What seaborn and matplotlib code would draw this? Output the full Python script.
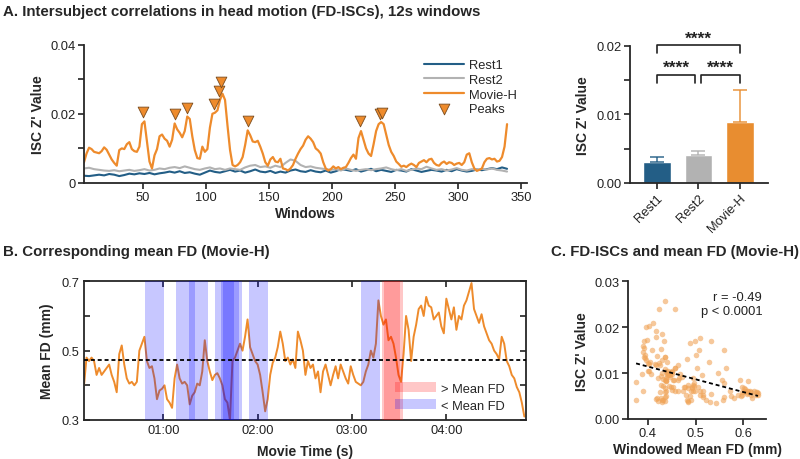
import numpy as np
import pandas as pd
import matplotlib
matplotlib.use("Agg")
import matplotlib.pyplot as plt
import seaborn as sns
from matplotlib.patches import Patch
from matplotlib.ticker import FuncFormatter

# ---------------- data ----------------
# FD-ISC per sliding window (Movie-H read every 2nd window, rest runs every 4th)
movie_first, movie_step = 3, 2
movie_isc = [
    0.0060, 0.0085, 0.0102, 0.0098, 0.0090, 0.0088, 0.0086, 0.0092, 0.0103, 0.0096,
    0.0082, 0.0068, 0.0058, 0.0050, 0.0095, 0.0100, 0.0098, 0.0112, 0.0118, 0.0098,
    0.0092, 0.0090, 0.0105, 0.0170, 0.0178, 0.0120, 0.0062, 0.0042, 0.0080, 0.0098,
    0.0135, 0.0140, 0.0128, 0.0122, 0.0105, 0.0125, 0.0172, 0.0155, 0.0145, 0.0132,
    0.0150, 0.0192, 0.0185, 0.0135, 0.0095, 0.0072, 0.0070, 0.0105, 0.0090, 0.0098,
    0.0160, 0.0200, 0.0203, 0.0210, 0.0240, 0.0258, 0.0240, 0.0165, 0.0095, 0.0052,
    0.0048, 0.0052, 0.0060, 0.0075, 0.0110, 0.0152, 0.0138, 0.0120, 0.0118, 0.0122,
    0.0105, 0.0085, 0.0060, 0.0050, 0.0068, 0.0075, 0.0062, 0.0060, 0.0070, 0.0042,
    0.0040, 0.0036, 0.0042, 0.0052, 0.0070, 0.0085, 0.0098, 0.0108, 0.0125, 0.0135,
    0.0128, 0.0118, 0.0100, 0.0094, 0.0085, 0.0060, 0.0042, 0.0036, 0.0040, 0.0048,
    0.0042, 0.0046, 0.0040, 0.0044, 0.0046, 0.0058, 0.0072, 0.0082, 0.0070, 0.0130,
    0.0150, 0.0125, 0.0100, 0.0085, 0.0078, 0.0112, 0.0150, 0.0170, 0.0176, 0.0170,
    0.0140, 0.0110, 0.0090, 0.0078, 0.0062, 0.0055, 0.0047, 0.0050, 0.0046, 0.0052,
    0.0056, 0.0052, 0.0046, 0.0058, 0.0062, 0.0066, 0.0060, 0.0068, 0.0070, 0.0058,
    0.0052, 0.0050, 0.0058, 0.0062, 0.0055, 0.0060, 0.0058, 0.0052, 0.0056, 0.0058,
    0.0052, 0.0060, 0.0082, 0.0086, 0.0060, 0.0042, 0.0035, 0.0038, 0.0042, 0.0060,
    0.0070, 0.0072, 0.0068, 0.0070, 0.0062, 0.0064, 0.0075, 0.0105, 0.0170,
]
rest_first, rest_step = 3, 4
rest1_isc = [
    0.0021, 0.0020, 0.0022, 0.0024, 0.0022, 0.0026, 0.0024, 0.0020, 0.0023, 0.0027,
    0.0025, 0.0028, 0.0026, 0.0029, 0.0025, 0.0028, 0.0030, 0.0033, 0.0030, 0.0034,
    0.0029, 0.0031, 0.0027, 0.0024, 0.0030, 0.0036, 0.0032, 0.0030, 0.0034, 0.0038,
    0.0033, 0.0036, 0.0030, 0.0034, 0.0039, 0.0033, 0.0031, 0.0035, 0.0029, 0.0033,
    0.0030, 0.0036, 0.0039, 0.0034, 0.0032, 0.0037, 0.0033, 0.0031, 0.0036, 0.0030,
    0.0034, 0.0040, 0.0038, 0.0035, 0.0040, 0.0033, 0.0037, 0.0041, 0.0034, 0.0038,
    0.0035, 0.0032, 0.0038, 0.0036, 0.0033, 0.0040, 0.0036, 0.0032, 0.0035, 0.0038,
    0.0036, 0.0033, 0.0038, 0.0034, 0.0040, 0.0036, 0.0033, 0.0035, 0.0039, 0.0037,
    0.0040, 0.0043, 0.0040, 0.0045, 0.0041,
]
rest2_isc = [
    0.0042, 0.0044, 0.0040, 0.0038, 0.0036, 0.0035, 0.0037, 0.0034, 0.0036, 0.0038,
    0.0035, 0.0037, 0.0040, 0.0036, 0.0038, 0.0042, 0.0040, 0.0044, 0.0046, 0.0043,
    0.0048, 0.0044, 0.0040, 0.0038, 0.0042, 0.0045, 0.0040, 0.0042, 0.0038, 0.0042,
    0.0040, 0.0038, 0.0045, 0.0050, 0.0052, 0.0046, 0.0048, 0.0044, 0.0050, 0.0046,
    0.0058, 0.0068, 0.0064, 0.0052, 0.0046, 0.0048, 0.0044, 0.0042, 0.0040, 0.0038,
    0.0040, 0.0036, 0.0042, 0.0038, 0.0035, 0.0038, 0.0040, 0.0037, 0.0040, 0.0042,
    0.0045, 0.0040, 0.0037, 0.0040, 0.0035, 0.0038, 0.0042, 0.0040, 0.0047, 0.0042,
    0.0038, 0.0040, 0.0036, 0.0039, 0.0043, 0.0038, 0.0036, 0.0040, 0.0038, 0.0041,
    0.0039, 0.0042, 0.0038, 0.0036, 0.0033,
]

# peaks of the Movie-H FD-ISC
peak_windows = [50, 75, 85, 106, 110, 112, 133, 222, 238, 240]
peak_isc = [0.0180, 0.0173, 0.0192, 0.0203, 0.0242, 0.0266, 0.0153, 0.0155, 0.0174, 0.0176]
peak_side = ["<", "<", "<", "<", "<", "<", "<", "<", ">", ">"]

# group mean FD during Movie-H (one value every 1.6 s, from 9.6 s)
fd_t0, fd_dt = 9.6, 1.6
mean_fd = [
    0.40, 0.48, 0.47, 0.48, 0.47, 0.43, 0.45, 0.43, 0.44, 0.45,
    0.46, 0.43, 0.41, 0.38, 0.49, 0.515, 0.46, 0.42, 0.405, 0.41,
    0.40, 0.41, 0.50, 0.52, 0.54, 0.47, 0.45, 0.455, 0.42, 0.36,
    0.385, 0.39, 0.40, 0.36, 0.35, 0.335, 0.42, 0.46, 0.42, 0.405,
    0.41, 0.40, 0.345, 0.37, 0.38, 0.405, 0.40, 0.44, 0.53, 0.47,
    0.44, 0.415, 0.43, 0.435, 0.42, 0.40, 0.36, 0.35, 0.30, 0.47,
    0.48, 0.50, 0.52, 0.50, 0.54, 0.59, 0.51, 0.49, 0.47, 0.46,
    0.43, 0.38, 0.325, 0.36, 0.43, 0.465, 0.48, 0.51, 0.555, 0.52,
    0.47, 0.48, 0.46, 0.475, 0.45, 0.555, 0.53, 0.50, 0.43, 0.47,
    0.45, 0.46, 0.42, 0.44, 0.38, 0.44, 0.46, 0.43, 0.40, 0.43,
    0.455, 0.42, 0.46, 0.44, 0.42, 0.405, 0.455, 0.43, 0.41, 0.405,
    0.40, 0.41, 0.44, 0.46, 0.50, 0.48, 0.52, 0.645, 0.60, 0.575,
    0.59, 0.53, 0.54, 0.52, 0.48, 0.43, 0.41, 0.49, 0.60, 0.56,
    0.47, 0.54, 0.575, 0.62, 0.63, 0.60, 0.655, 0.63, 0.625, 0.59,
    0.60, 0.61, 0.57, 0.55, 0.65, 0.62, 0.59, 0.625, 0.56, 0.60,
    0.59, 0.63, 0.645, 0.67, 0.695, 0.62, 0.60, 0.58, 0.605, 0.57,
    0.55, 0.53, 0.52, 0.50, 0.49, 0.475, 0.54, 0.52, 0.47, 0.455,
    0.43, 0.42, 0.395, 0.38, 0.35, 0.31,
]
overall_mean_fd = 0.473

# window timing (TR = 0.8 s, 12 s windows)
tr, win_len, win_offset = 0.8, 12, 8.4

conditions = ["Rest1", "Rest2", "Movie-H"]
cond_mean = [0.0031, 0.0041, 0.0089]
cond_sd = [0.0007, 0.0006, 0.0046]

# ---------------- style ----------------
c_rest1 = "#235E86"
c_rest2 = "#B2B2B2"
c_movie = "#EE8B2C"
c_bar_movie = "#E88D30"
c_scatter = "#F0A458"

sns.set_theme(style="ticks")
plt.rcParams["font.family"] = ["Liberation Sans", "DejaVu Sans"]
plt.rcParams["axes.linewidth"] = 1.3
plt.rcParams["xtick.major.width"] = 1.2
plt.rcParams["ytick.major.width"] = 1.2
plt.rcParams["ytick.minor.width"] = 1.2
plt.rcParams["xtick.color"] = "#222222"
plt.rcParams["ytick.color"] = "#222222"
tick_fs = 9.3
lab_fs = 10
title_fs = 10.8

fig = plt.figure(figsize=(8, 4.6), dpi=100)
axA = fig.add_axes([0.105, 0.600, 0.554, 0.301])
axBar = fig.add_axes([0.787, 0.600, 0.1725, 0.2985])
axB = fig.add_axes([0.105, 0.0848, 0.552, 0.3015])
axC = fig.add_axes([0.785, 0.087, 0.173, 0.2993])

# ---------------- A: FD-ISC time courses ----------------
movie_w = movie_first + movie_step * np.arange(len(movie_isc))
rest_w = rest_first + rest_step * np.arange(len(rest1_isc))

sns.lineplot(x=rest_w, y=rest1_isc, color=c_rest1, lw=1.5, ax=axA, label="Rest1")
sns.lineplot(x=rest_w, y=rest2_isc, color=c_rest2, lw=1.5, ax=axA, label="Rest2")
sns.lineplot(x=movie_w, y=movie_isc, color=c_movie, lw=1.6, ax=axA, label="Movie-H")
sns.scatterplot(x=peak_windows, y=np.array(peak_isc) + 0.0025, marker="v", s=60,
                color=c_movie, edgecolor="#7A4C1E", linewidth=0.6, ax=axA,
                label="Peaks", zorder=5)

axA.set_xlim(3, 355)
axA.set_ylim(0, 0.04)
axA.set_xticks(range(50, 351, 50))
axA.set_yticks([0, 0.02, 0.04])
axA.set_yticklabels(["0", "0.02", "0.04"])
axA.set_yticks([0.01, 0.03], minor=True)
axA.tick_params(which="both", direction="out", length=4, labelsize=tick_fs, pad=2)
sns.despine(ax=axA)
axA.set_xlabel("Windows", fontsize=lab_fs, fontweight="bold", labelpad=2)
axA.set_ylabel("ISC Z' Value", fontsize=lab_fs, fontweight="bold", labelpad=4)
axA.legend(loc="upper right", bbox_to_anchor=(0.995, 0.95), frameon=False,
           fontsize=tick_fs, handlelength=3.1, labelspacing=0.2, handletextpad=0.4,
           borderpad=0.1)

# ---------------- A right: mean FD-ISC per condition ----------------
bar_colors = [c_rest1, c_rest2, c_bar_movie]
sns.barplot(x=conditions, y=cond_mean, hue=conditions, palette=bar_colors,
            legend=False, width=0.66, saturation=1, ax=axBar)
for i, (m, sd, c) in enumerate(zip(cond_mean, cond_sd, bar_colors)):
    axBar.errorbar(i, m, yerr=[[0], [sd]], fmt="none", ecolor=c, elinewidth=1.2,
                   capsize=5, capthick=1.2, alpha=0.85)

axBar.set_xlim(-0.66, 2.67)
axBar.set_ylim(0, 0.02)
axBar.set_yticks([0, 0.01, 0.02])
axBar.set_yticklabels(["0.00", "0.01", "0.02"])
axBar.set_yticks([0.005, 0.015], minor=True)
axBar.tick_params(which="both", direction="out", length=4, labelsize=tick_fs, pad=2)
axBar.set_xticks(range(3))
axBar.set_xticklabels(conditions, rotation=45, ha="right", rotation_mode="anchor")
sns.despine(ax=axBar)
axBar.set_xlabel("")
axBar.set_ylabel("ISC Z' Value", fontsize=lab_fs, fontweight="bold", labelpad=4)

# significance brackets
def bracket(ax, x1, x2, y, h, text):
    ax.plot([x1, x1, x2, x2], [y - h, y, y, y - h], color="#222222", lw=1.2, clip_on=False)
    ax.text((x1 + x2) / 2, y - 0.0001, text, ha="center", va="bottom",
            fontsize=12.5, fontweight="bold", color="#222222", clip_on=False)

bracket(axBar, 0, 0.93, 0.0158, 0.0012, "****")
bracket(axBar, 1.07, 2, 0.0158, 0.0012, "****")
bracket(axBar, 0, 2, 0.0201, 0.0012, "****")

# ---------------- B: mean FD during Movie-H ----------------
fd_time = fd_t0 + fd_dt * np.arange(len(mean_fd))
sns.lineplot(x=fd_time, y=mean_fd, color=c_movie, lw=1.4, ax=axB, zorder=2)
axB.axhline(overall_mean_fd, color="black", ls=(0, (2.2, 1.6)), lw=1.3, zorder=4)

for w, side in zip(peak_windows, peak_side):
    onset = win_offset + tr * w
    axB.axvspan(onset, onset + win_len, color="red" if side == ">" else "blue",
                alpha=0.22, lw=0, zorder=3)

axB.set_xlim(fd_time[0], fd_time[-1] + 0.8)
axB.set_ylim(0.3, 0.7)
axB.set_xticks([60, 120, 180, 240])
axB.xaxis.set_major_formatter(FuncFormatter(lambda t, _: f"{int(t // 60):02d}:{int(t % 60):02d}"))
axB.set_yticks([0.3, 0.4, 0.5, 0.6, 0.7])
axB.set_yticklabels(["0.3", "", "0.5", "", "0.7"])
axB.tick_params(direction="in", top=True, right=True, length=4, labelsize=tick_fs, pad=3)
axB.set_xlabel("Movie Time (s)", fontsize=lab_fs, fontweight="bold", labelpad=6)
axB.set_ylabel("Mean FD (mm)", fontsize=lab_fs, fontweight="bold", labelpad=6)
axB.legend(handles=[Patch(facecolor="red", alpha=0.22, lw=0),
                    Patch(facecolor="blue", alpha=0.22, lw=0)],
           labels=["> Mean FD", "< Mean FD"], loc="lower right",
           bbox_to_anchor=(0.953, 0.06), frameon=False, fontsize=tick_fs,
           handlelength=3.2, handleheight=0.8, labelspacing=0.35, handletextpad=0.4,
           borderaxespad=0, borderpad=0)

# ---------------- C: FD-ISC vs windowed mean FD ----------------
n_per_win = int(round(win_len / fd_dt))
fd_arr = np.array(mean_fd)
fd_win = np.array([fd_arr[j + 1:j + 1 + n_per_win].mean() for j in range(len(movie_isc))])
sns.regplot(x=fd_win, y=np.array(movie_isc), ci=None, ax=axC,
            scatter_kws=dict(s=16, color=c_scatter, alpha=0.6, linewidths=0),
            line_kws=dict(color="black", ls=(0, (2.2, 1.6)), lw=1.3))
axC.set_xlim(0.358, 0.649)
axC.set_ylim(0, 0.03)
axC.set_xticks([0.4, 0.5, 0.6])
axC.set_yticks([0, 0.01, 0.02, 0.03])
axC.set_yticklabels(["0.00", "0.01", "0.02", "0.03"])
axC.tick_params(direction="out", length=4, labelsize=tick_fs, pad=2)
sns.despine(ax=axC)
axC.set_xlabel("Windowed Mean FD (mm)", fontsize=lab_fs, fontweight="bold", labelpad=2)
axC.set_ylabel("ISC Z' Value", fontsize=lab_fs, fontweight="bold", labelpad=4)
axC.text(0.97, 0.93, "r = -0.49\np < 0.0001", transform=axC.transAxes, ha="right",
         va="top", fontsize=tick_fs, linespacing=1.25, color="#222222")

# ---------------- panel titles ----------------
fig.text(0.004, 0.973, "A. Intersubject correlations in head motion (FD-ISCs), 12s windows",
         fontsize=title_fs, fontweight="bold", va="center")
fig.text(0.004, 0.453, "B. Corresponding mean FD (Movie-H)",
         fontsize=title_fs, fontweight="bold", va="center")
fig.text(0.689, 0.453, "C. FD-ISCs and mean FD (Movie-H)",
         fontsize=title_fs, fontweight="bold", va="center")

fig.savefig("out.png", dpi=100, facecolor="white")
